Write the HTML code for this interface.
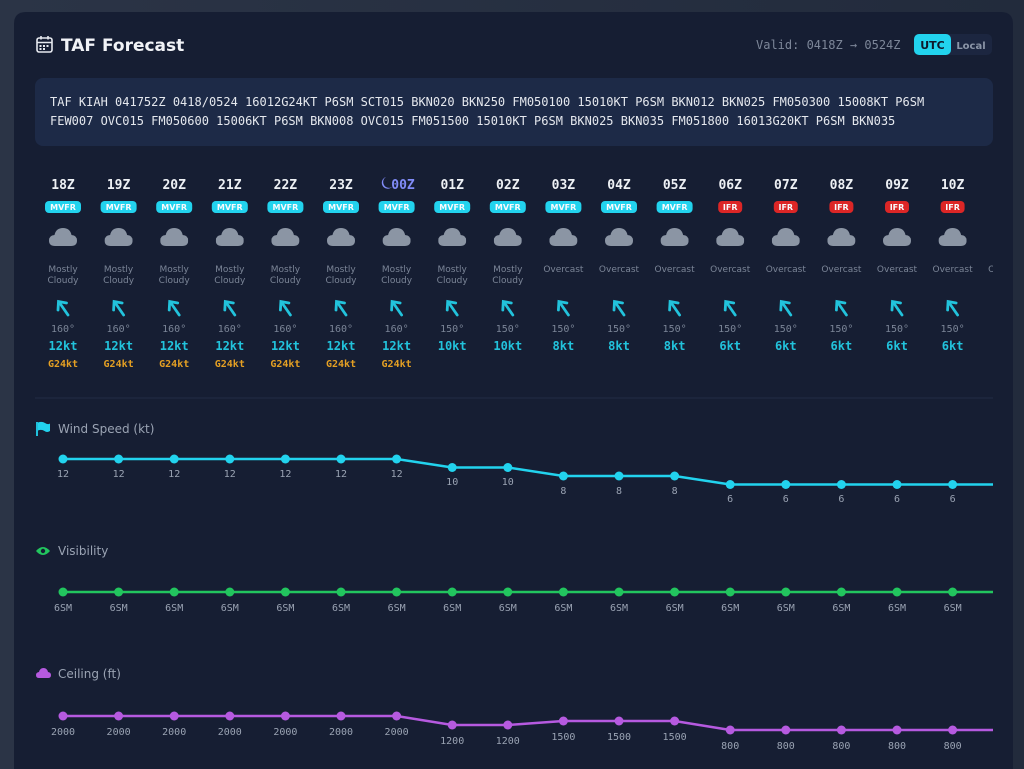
<!DOCTYPE html>
<html><head><meta charset="utf-8"><style>
html,body{margin:0;padding:0;width:1024px;height:769px;overflow:hidden;background:#273042;}
svg{display:block}
.m{font-family:"DejaVu Sans Mono","Liberation Mono",monospace}
.s{font-family:"DejaVu Sans","Liberation Sans",sans-serif}
</style></head><body>
<svg width="1024" height="769" viewBox="0 0 1024 769" xmlns="http://www.w3.org/2000/svg">
<defs>
<linearGradient id="bg" x1="0" y1="0" x2="1" y2="0"><stop offset="0" stop-color="#2b3446"/><stop offset="1" stop-color="#222b3c"/></linearGradient>
<symbol id="cl" viewBox="0 0 28 20"><path d="M6 19 Q0 19 0 13.5 Q0 8.5 5.5 8 Q7 1 14 1 Q21 1 22.5 8 Q28 8.5 28 13.5 Q28 19 22 19 Z" fill="#8b95a4"/></symbol>
<symbol id="ar" viewBox="0 0 20 20"><g stroke="#22c3dc" stroke-width="2.8" stroke-linecap="round" fill="none"><path d="M15 17 L6 4"/><path d="M5 12 L5.5 3.5 L13.5 5"/></g></symbol>
<clipPath id="cp"><rect x="30" y="150" width="963" height="619"/></clipPath>
</defs>
<rect width="1024" height="769" fill="url(#bg)"/>
<path d="M14 769 V24 Q14 12 26 12 H1001 Q1013 12 1013 24 V769 Z" fill="#161e33"/>
<!-- header -->
<g fill="none" stroke="#e6e9ef" stroke-width="1.6"><rect x="37" y="38" width="15" height="14" rx="2"/><path d="M37 42.5 H52 M41 36 V39.5 M48 36 V39.5"/></g>
<g fill="#e6e9ef"><rect x="39.5" y="45" width="2" height="2"/><rect x="43" y="45" width="2" height="2"/><rect x="46.5" y="45" width="2" height="2"/><rect x="39.5" y="48" width="2" height="2"/><rect x="43" y="48" width="2" height="2"/></g>
<text x="61" y="51" class="s" font-size="17" font-weight="bold" fill="#f1f3f7">TAF Forecast</text>
<text x="756" y="49" class="m" font-size="12" fill="#7d8799">Valid: 0418Z → 0524Z</text>
<rect x="914" y="34" width="78" height="21" rx="5" fill="#1c2640"/>
<rect x="914" y="34" width="37" height="21" rx="5" fill="#22d3ee"/>
<text x="932.5" y="49" class="s" font-size="11" font-weight="bold" fill="#0f172a" text-anchor="middle">UTC</text>
<text x="971" y="49" class="s" font-size="10" font-weight="bold" fill="#8b95a7" text-anchor="middle">Local</text>
<!-- raw -->
<rect x="35" y="78" width="958" height="68" rx="8" fill="#1d2a47"/>
<text class="m" font-size="12" fill="#e5e8ee"><tspan x="50" y="106">TAF KIAH 041752Z 0418/0524 16012G24KT P6SM SCT015 BKN020 BKN250 FM050100 15010KT P6SM BKN012 BKN025 FM050300 15008KT P6SM</tspan><tspan x="50" y="125">FEW007 OVC015 FM050600 15006KT P6SM BKN008 OVC015 FM051500 15010KT P6SM BKN025 BKN035 FM051800 16013G20KT P6SM BKN035</tspan></text>
<line x1="35" y1="398" x2="993" y2="398" stroke="#222c44" stroke-width="1"/>
<g clip-path="url(#cp)">
<!-- hours -->
<g class="m" font-size="13" font-weight="bold" fill="#eef1f5" text-anchor="middle">
<text x="63" y="189">18Z</text><text x="118.6" y="189">19Z</text><text x="174.2" y="189">20Z</text><text x="229.8" y="189">21Z</text><text x="285.4" y="189">22Z</text><text x="341" y="189">23Z</text><text x="403" y="189" fill="#818cf8">00Z</text><text x="452.2" y="189">01Z</text><text x="507.8" y="189">02Z</text><text x="563.4" y="189">03Z</text><text x="619" y="189">04Z</text><text x="674.6" y="189">05Z</text><text x="730.2" y="189">06Z</text><text x="785.8" y="189">07Z</text><text x="841.4" y="189">08Z</text><text x="897" y="189">09Z</text><text x="952.6" y="189">10Z</text><text x="1008.2" y="189">11Z</text>
</g>
<path d="M386 177 A6 6 0 1 0 392 187 A5 5 0 0 1 386 177 Z" fill="#818cf8"/>
<!-- badges -->
<g fill="#22d3ee">
<rect x="45" y="201" width="36" height="12" rx="4"/><rect x="100.6" y="201" width="36" height="12" rx="4"/><rect x="156.2" y="201" width="36" height="12" rx="4"/><rect x="211.8" y="201" width="36" height="12" rx="4"/><rect x="267.4" y="201" width="36" height="12" rx="4"/><rect x="323" y="201" width="36" height="12" rx="4"/><rect x="378.6" y="201" width="36" height="12" rx="4"/><rect x="434.2" y="201" width="36" height="12" rx="4"/><rect x="489.8" y="201" width="36" height="12" rx="4"/><rect x="545.4" y="201" width="36" height="12" rx="4"/><rect x="601" y="201" width="36" height="12" rx="4"/><rect x="656.6" y="201" width="36" height="12" rx="4"/>
</g>
<g fill="#dc2626">
<rect x="718.2" y="201" width="24" height="12" rx="4"/><rect x="773.8" y="201" width="24" height="12" rx="4"/><rect x="829.4" y="201" width="24" height="12" rx="4"/><rect x="885" y="201" width="24" height="12" rx="4"/><rect x="940.6" y="201" width="24" height="12" rx="4"/>
</g>
<g class="s" font-size="8" font-weight="bold" fill="#f8fafc" text-anchor="middle">
<text x="63" y="210">MVFR</text><text x="118.6" y="210">MVFR</text><text x="174.2" y="210">MVFR</text><text x="229.8" y="210">MVFR</text><text x="285.4" y="210">MVFR</text><text x="341" y="210">MVFR</text><text x="396.6" y="210">MVFR</text><text x="452.2" y="210">MVFR</text><text x="507.8" y="210">MVFR</text><text x="563.4" y="210">MVFR</text><text x="619" y="210">MVFR</text><text x="674.6" y="210">MVFR</text><text x="730.2" y="210">IFR</text><text x="785.8" y="210">IFR</text><text x="841.4" y="210">IFR</text><text x="897" y="210">IFR</text><text x="952.6" y="210">IFR</text>
</g>
<!-- clouds -->
<use href="#cl" x="49" y="227" width="28" height="20"/><use href="#cl" x="104.6" y="227" width="28" height="20"/><use href="#cl" x="160.2" y="227" width="28" height="20"/><use href="#cl" x="215.8" y="227" width="28" height="20"/><use href="#cl" x="271.4" y="227" width="28" height="20"/><use href="#cl" x="327" y="227" width="28" height="20"/><use href="#cl" x="382.6" y="227" width="28" height="20"/><use href="#cl" x="438.2" y="227" width="28" height="20"/><use href="#cl" x="493.8" y="227" width="28" height="20"/><use href="#cl" x="549.4" y="227" width="28" height="20"/><use href="#cl" x="605" y="227" width="28" height="20"/><use href="#cl" x="660.6" y="227" width="28" height="20"/><use href="#cl" x="716.2" y="227" width="28" height="20"/><use href="#cl" x="771.8" y="227" width="28" height="20"/><use href="#cl" x="827.4" y="227" width="28" height="20"/><use href="#cl" x="883" y="227" width="28" height="20"/><use href="#cl" x="938.6" y="227" width="28" height="20"/>
<!-- conditions -->
<g class="s" font-size="9" fill="#7b8597" text-anchor="middle">
<text x="63" y="272">Mostly</text><text x="63" y="283">Cloudy</text><text x="118.6" y="272">Mostly</text><text x="118.6" y="283">Cloudy</text><text x="174.2" y="272">Mostly</text><text x="174.2" y="283">Cloudy</text><text x="229.8" y="272">Mostly</text><text x="229.8" y="283">Cloudy</text><text x="285.4" y="272">Mostly</text><text x="285.4" y="283">Cloudy</text><text x="341" y="272">Mostly</text><text x="341" y="283">Cloudy</text><text x="396.6" y="272">Mostly</text><text x="396.6" y="283">Cloudy</text><text x="452.2" y="272">Mostly</text><text x="452.2" y="283">Cloudy</text><text x="507.8" y="272">Mostly</text><text x="507.8" y="283">Cloudy</text>
<text x="563.4" y="272">Overcast</text><text x="619" y="272">Overcast</text><text x="674.6" y="272">Overcast</text><text x="730.2" y="272">Overcast</text><text x="785.8" y="272">Overcast</text><text x="841.4" y="272">Overcast</text><text x="897" y="272">Overcast</text><text x="952.6" y="272">Overcast</text><text x="1008.2" y="272">Overcast</text>
</g>
<!-- arrows -->
<use href="#ar" x="53" y="298" width="20" height="20"/><use href="#ar" x="108.6" y="298" width="20" height="20"/><use href="#ar" x="164.2" y="298" width="20" height="20"/><use href="#ar" x="219.8" y="298" width="20" height="20"/><use href="#ar" x="275.4" y="298" width="20" height="20"/><use href="#ar" x="331" y="298" width="20" height="20"/><use href="#ar" x="386.6" y="298" width="20" height="20"/><use href="#ar" x="442.2" y="298" width="20" height="20"/><use href="#ar" x="497.8" y="298" width="20" height="20"/><use href="#ar" x="553.4" y="298" width="20" height="20"/><use href="#ar" x="609" y="298" width="20" height="20"/><use href="#ar" x="664.6" y="298" width="20" height="20"/><use href="#ar" x="720.2" y="298" width="20" height="20"/><use href="#ar" x="775.8" y="298" width="20" height="20"/><use href="#ar" x="831.4" y="298" width="20" height="20"/><use href="#ar" x="887" y="298" width="20" height="20"/><use href="#ar" x="942.6" y="298" width="20" height="20"/>
<g class="m" font-size="10" fill="#7b8597" text-anchor="middle">
<text x="63" y="332">160°</text><text x="118.6" y="332">160°</text><text x="174.2" y="332">160°</text><text x="229.8" y="332">160°</text><text x="285.4" y="332">160°</text><text x="341" y="332">160°</text><text x="396.6" y="332">160°</text><text x="452.2" y="332">150°</text><text x="507.8" y="332">150°</text><text x="563.4" y="332">150°</text><text x="619" y="332">150°</text><text x="674.6" y="332">150°</text><text x="730.2" y="332">150°</text><text x="785.8" y="332">150°</text><text x="841.4" y="332">150°</text><text x="897" y="332">150°</text><text x="952.6" y="332">150°</text>
</g>
<g class="m" font-size="12" font-weight="bold" fill="#22c3dc" text-anchor="middle">
<text x="63" y="350">12kt</text><text x="118.6" y="350">12kt</text><text x="174.2" y="350">12kt</text><text x="229.8" y="350">12kt</text><text x="285.4" y="350">12kt</text><text x="341" y="350">12kt</text><text x="396.6" y="350">12kt</text><text x="452.2" y="350">10kt</text><text x="507.8" y="350">10kt</text><text x="563.4" y="350">8kt</text><text x="619" y="350">8kt</text><text x="674.6" y="350">8kt</text><text x="730.2" y="350">6kt</text><text x="785.8" y="350">6kt</text><text x="841.4" y="350">6kt</text><text x="897" y="350">6kt</text><text x="952.6" y="350">6kt</text>
</g>
<g class="m" font-size="10" font-weight="bold" fill="#e5a023" text-anchor="middle">
<text x="63" y="367">G24kt</text><text x="118.6" y="367">G24kt</text><text x="174.2" y="367">G24kt</text><text x="229.8" y="367">G24kt</text><text x="285.4" y="367">G24kt</text><text x="341" y="367">G24kt</text><text x="396.6" y="367">G24kt</text>
</g>
<!-- wind chart -->
<polyline fill="none" stroke="#22d3ee" stroke-width="2.5" points="63,459 118.6,459 174.2,459 229.8,459 285.4,459 341,459 396.6,459 452.2,467.5 507.8,467.5 563.4,476 619,476 674.6,476 730.2,484.5 785.8,484.5 841.4,484.5 897,484.5 952.6,484.5 1008.2,484.5"/>
<g fill="#22d3ee"><circle cx="63" cy="459" r="4.5"/><circle cx="118.6" cy="459" r="4.5"/><circle cx="174.2" cy="459" r="4.5"/><circle cx="229.8" cy="459" r="4.5"/><circle cx="285.4" cy="459" r="4.5"/><circle cx="341" cy="459" r="4.5"/><circle cx="396.6" cy="459" r="4.5"/><circle cx="452.2" cy="467.5" r="4.5"/><circle cx="507.8" cy="467.5" r="4.5"/><circle cx="563.4" cy="476" r="4.5"/><circle cx="619" cy="476" r="4.5"/><circle cx="674.6" cy="476" r="4.5"/><circle cx="730.2" cy="484.5" r="4.5"/><circle cx="785.8" cy="484.5" r="4.5"/><circle cx="841.4" cy="484.5" r="4.5"/><circle cx="897" cy="484.5" r="4.5"/><circle cx="952.6" cy="484.5" r="4.5"/></g>
<g class="m" font-size="10" fill="#9aa3b3" text-anchor="middle">
<text x="63" y="477">12</text><text x="118.6" y="477">12</text><text x="174.2" y="477">12</text><text x="229.8" y="477">12</text><text x="285.4" y="477">12</text><text x="341" y="477">12</text><text x="396.6" y="477">12</text><text x="452.2" y="485">10</text><text x="507.8" y="485">10</text><text x="563.4" y="494">8</text><text x="619" y="494">8</text><text x="674.6" y="494">8</text><text x="730.2" y="502">6</text><text x="785.8" y="502">6</text><text x="841.4" y="502">6</text><text x="897" y="502">6</text><text x="952.6" y="502">6</text>
</g>
<!-- vis chart -->
<line x1="63" y1="592" x2="1010" y2="592" stroke="#22c55e" stroke-width="2.5"/>
<g fill="#22c55e"><circle cx="63" cy="592" r="4.5"/><circle cx="118.6" cy="592" r="4.5"/><circle cx="174.2" cy="592" r="4.5"/><circle cx="229.8" cy="592" r="4.5"/><circle cx="285.4" cy="592" r="4.5"/><circle cx="341" cy="592" r="4.5"/><circle cx="396.6" cy="592" r="4.5"/><circle cx="452.2" cy="592" r="4.5"/><circle cx="507.8" cy="592" r="4.5"/><circle cx="563.4" cy="592" r="4.5"/><circle cx="619" cy="592" r="4.5"/><circle cx="674.6" cy="592" r="4.5"/><circle cx="730.2" cy="592" r="4.5"/><circle cx="785.8" cy="592" r="4.5"/><circle cx="841.4" cy="592" r="4.5"/><circle cx="897" cy="592" r="4.5"/><circle cx="952.6" cy="592" r="4.5"/></g>
<g class="m" font-size="10" fill="#9aa3b3" text-anchor="middle">
<text x="63" y="611">6SM</text><text x="118.6" y="611">6SM</text><text x="174.2" y="611">6SM</text><text x="229.8" y="611">6SM</text><text x="285.4" y="611">6SM</text><text x="341" y="611">6SM</text><text x="396.6" y="611">6SM</text><text x="452.2" y="611">6SM</text><text x="507.8" y="611">6SM</text><text x="563.4" y="611">6SM</text><text x="619" y="611">6SM</text><text x="674.6" y="611">6SM</text><text x="730.2" y="611">6SM</text><text x="785.8" y="611">6SM</text><text x="841.4" y="611">6SM</text><text x="897" y="611">6SM</text><text x="952.6" y="611">6SM</text>
</g>
<!-- ceiling chart -->
<polyline fill="none" stroke="#b65ae0" stroke-width="2.5" points="63,716 118.6,716 174.2,716 229.8,716 285.4,716 341,716 396.6,716 452.2,725 507.8,725 563.4,721 619,721 674.6,721 730.2,730 785.8,730 841.4,730 897,730 952.6,730 1008.2,730"/>
<g fill="#b65ae0"><circle cx="63" cy="716" r="4.5"/><circle cx="118.6" cy="716" r="4.5"/><circle cx="174.2" cy="716" r="4.5"/><circle cx="229.8" cy="716" r="4.5"/><circle cx="285.4" cy="716" r="4.5"/><circle cx="341" cy="716" r="4.5"/><circle cx="396.6" cy="716" r="4.5"/><circle cx="452.2" cy="725" r="4.5"/><circle cx="507.8" cy="725" r="4.5"/><circle cx="563.4" cy="721" r="4.5"/><circle cx="619" cy="721" r="4.5"/><circle cx="674.6" cy="721" r="4.5"/><circle cx="730.2" cy="730" r="4.5"/><circle cx="785.8" cy="730" r="4.5"/><circle cx="841.4" cy="730" r="4.5"/><circle cx="897" cy="730" r="4.5"/><circle cx="952.6" cy="730" r="4.5"/></g>
<g class="m" font-size="10" fill="#9aa3b3" text-anchor="middle">
<text x="63" y="735">2000</text><text x="118.6" y="735">2000</text><text x="174.2" y="735">2000</text><text x="229.8" y="735">2000</text><text x="285.4" y="735">2000</text><text x="341" y="735">2000</text><text x="396.6" y="735">2000</text><text x="452.2" y="744">1200</text><text x="507.8" y="744">1200</text><text x="563.4" y="740">1500</text><text x="619" y="740">1500</text><text x="674.6" y="740">1500</text><text x="730.2" y="749">800</text><text x="785.8" y="749">800</text><text x="841.4" y="749">800</text><text x="897" y="749">800</text><text x="952.6" y="749">800</text>
</g>
</g>
<!-- chart titles -->
<path d="M37 422 V436" stroke="#22d3ee" stroke-width="1.8"/><path d="M38 422.5 Q42 421 45 423 Q48 425 50 423.5 V431 Q47 433 44.5 431 Q41.5 429 38 430.5 Z" fill="#22d3ee"/>
<text x="58" y="433" class="s" font-size="12" fill="#9aa3b3">Wind Speed (kt)</text>
<path d="M36 551 Q43 543 50 551 Q43 559 36 551 Z" fill="#22c55e"/><circle cx="43" cy="551" r="2.2" fill="#161e33"/>
<text x="58" y="555" class="s" font-size="12" fill="#9aa3b3">Visibility</text>
<path d="M39 678 Q36 678 36 675 Q36 672.5 39 672 Q40 668 43.5 668 Q47 668 48 672 Q51 672.5 51 675 Q51 678 48 678 Z" fill="#b65ae0"/>
<text x="58" y="678" class="s" font-size="12" fill="#9aa3b3">Ceiling (ft)</text>
</svg>
</body></html>
